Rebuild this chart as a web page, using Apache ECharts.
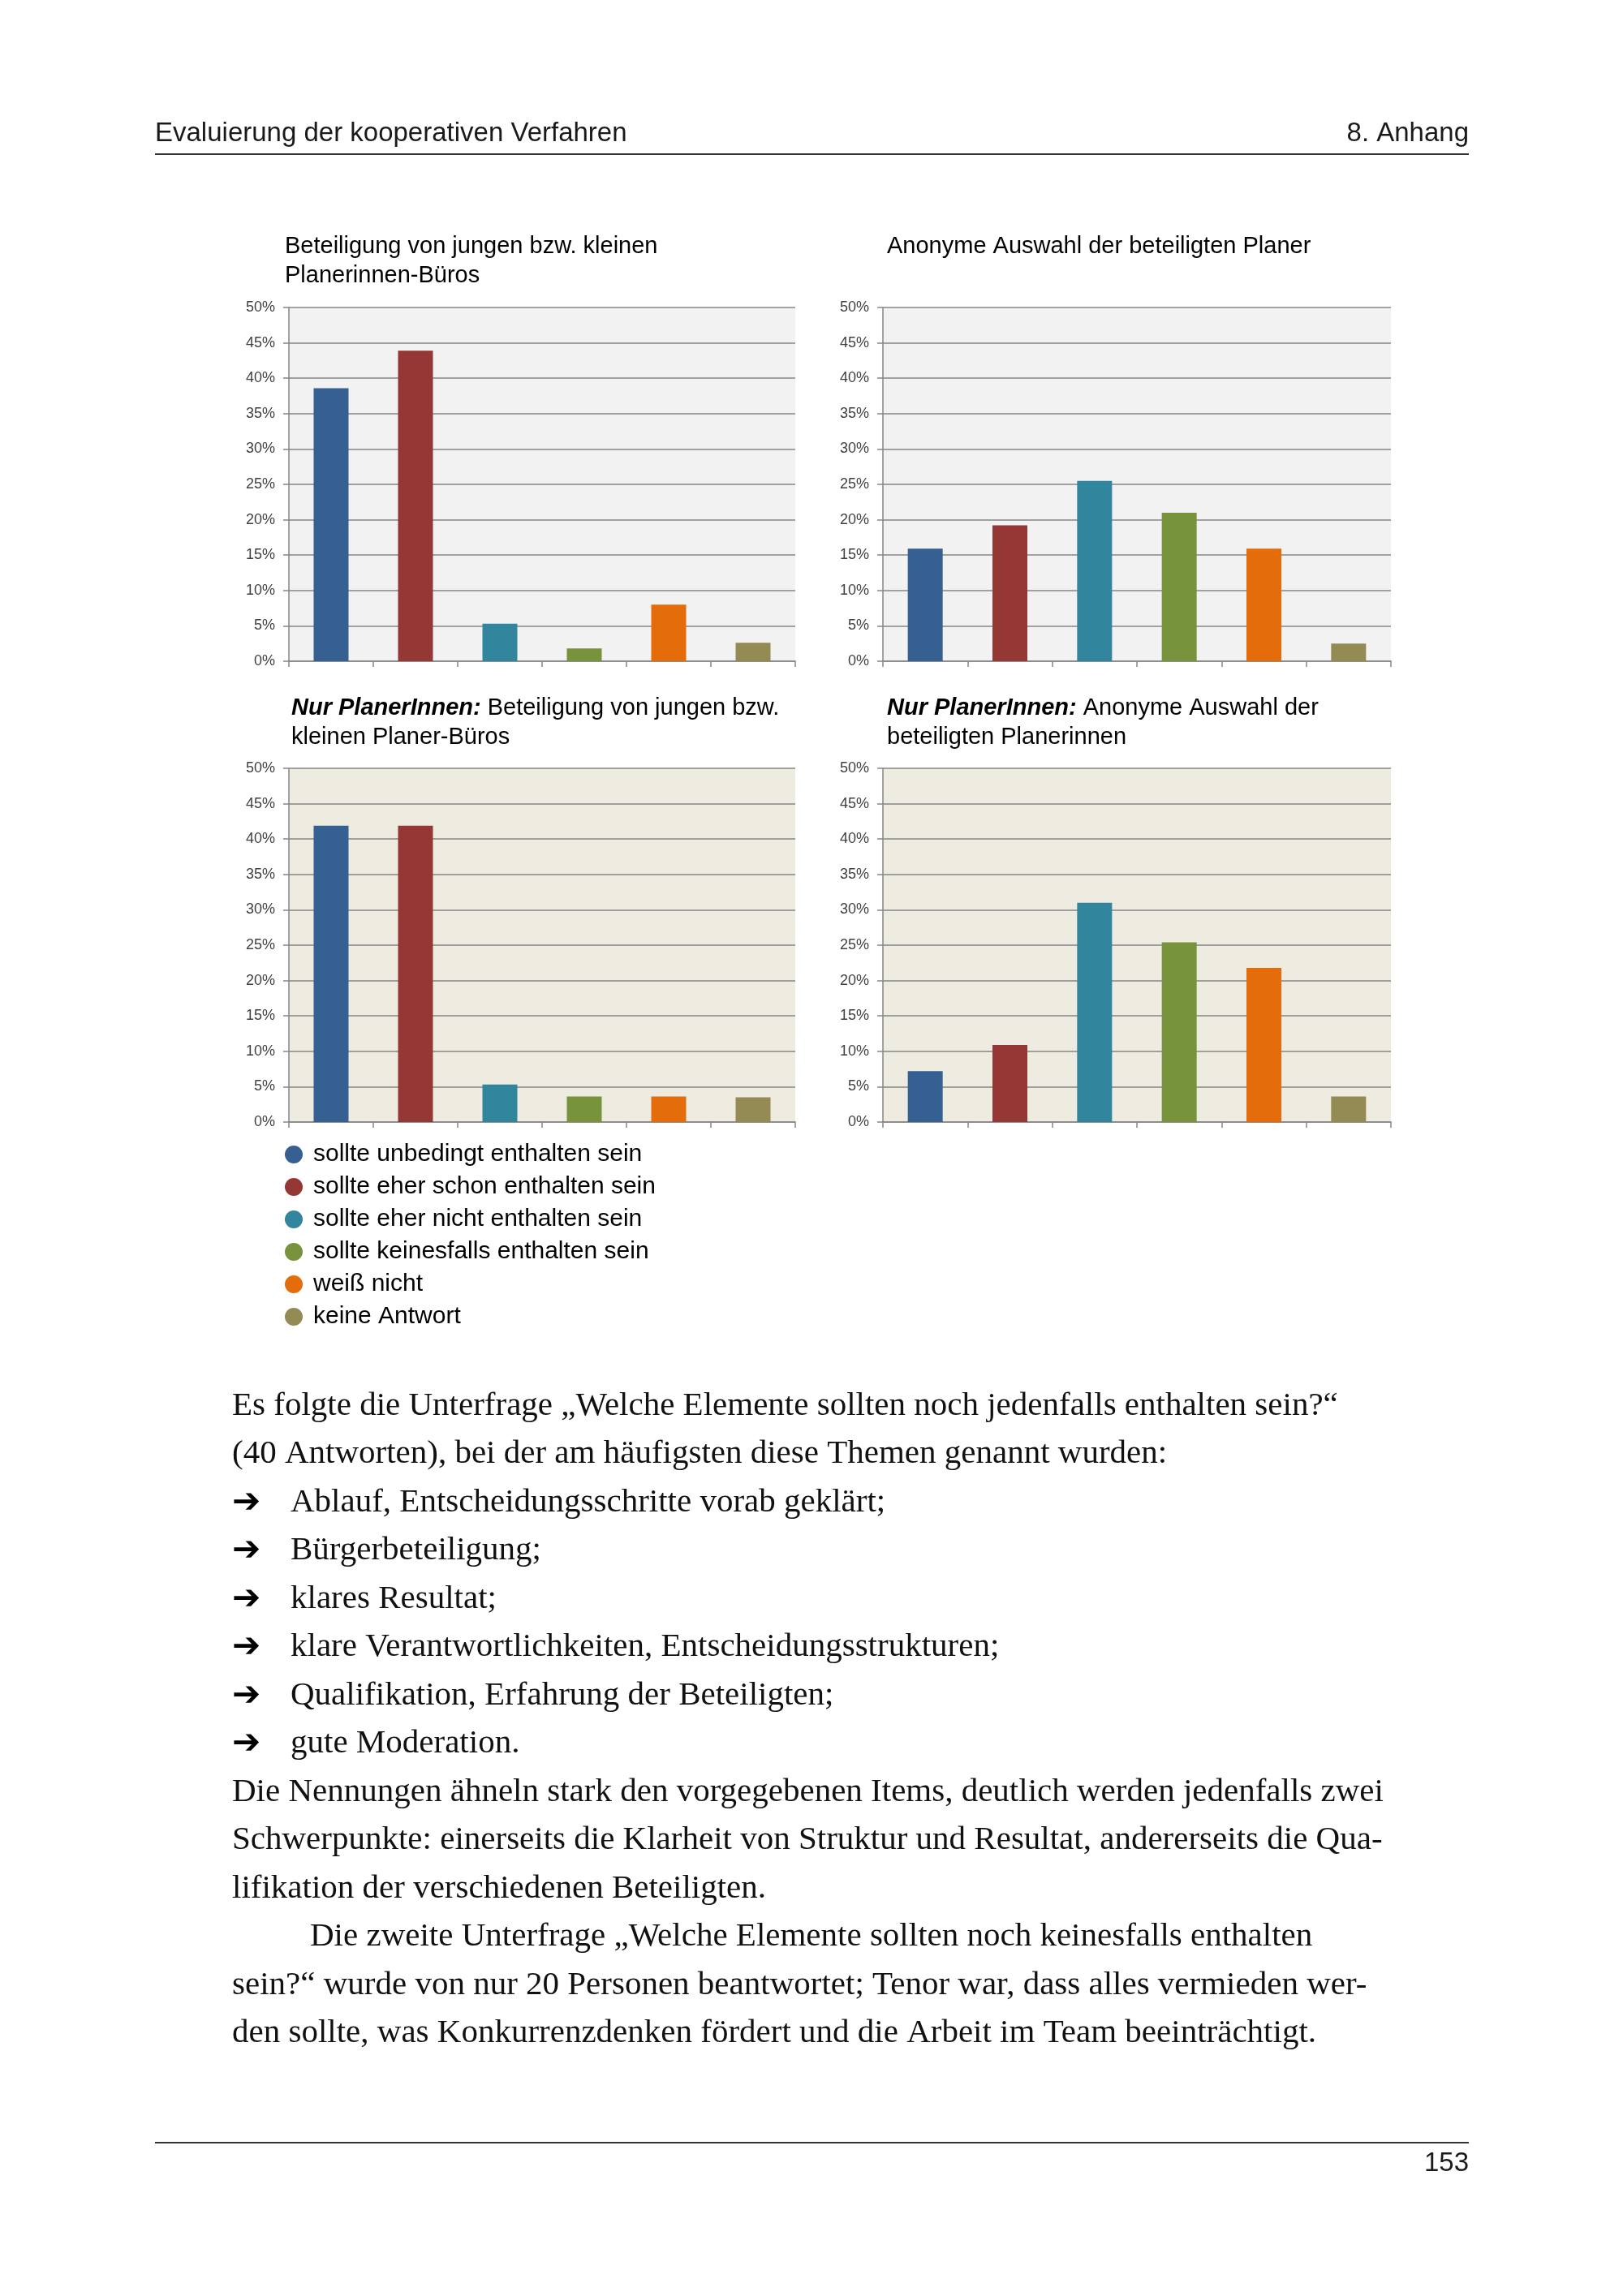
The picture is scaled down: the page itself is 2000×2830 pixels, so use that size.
<!DOCTYPE html>
<html>
<head>
<meta charset="utf-8">
<script src="https://cdn.jsdelivr.net/npm/echarts@6/dist/echarts.min.js"></script>
<style>
html,body{margin:0;padding:0;background:#fff;}
#page{width:2000px;height:2830px;}
</style>
</head>
<body>
<div id="page"></div>
<script>
// ---------- data ----------
const answerCategories = [
  'sollte unbedingt enthalten sein',
  'sollte eher schon enthalten sein',
  'sollte eher nicht enthalten sein',
  'sollte keinesfalls enthalten sein',
  'weiß nicht',
  'keine Antwort'
];
const answerColors = ['#376092', '#953735', '#31859c', '#77933c', '#e46c0a', '#948a54'];

const valuesBeteiligung      = [38.6, 43.9, 5.3, 1.8, 8.0, 2.6];
const valuesAnonym           = [15.9, 19.2, 25.5, 21.0, 15.9, 2.5];
const valuesNurBeteiligung   = [41.9, 41.9, 5.3, 3.6, 3.6, 3.5];
const valuesNurAnonym        = [7.2, 10.9, 31.0, 25.4, 21.8, 3.6];

const chartTitles = [
  'Beteiligung von jungen bzw. kleinen\nPlanerinnen-Büros',
  'Anonyme Auswahl der beteiligten Planer',
  '{b|Nur PlanerInnen:} Beteiligung von jungen bzw.\nkleinen Planer-Büros',
  '{b|Nur PlanerInnen:} Anonyme Auswahl der\nbeteiligten Planerinnen'
];

const yMin = 0, yMax = 50, yStep = 5;

const headerLeft = 'Evaluierung der kooperativen Verfahren';
const headerRight = '8. Anhang';
const pageNumber = '153';

const bodyLines = [
  {kind: 'text', text: 'Es folgte die Unterfrage „Welche Elemente sollten noch jedenfalls enthalten sein?“'},
  {kind: 'text', text: '(40 Antworten), bei der am häufigsten diese Themen genannt wurden:'},
  {kind: 'bullet', text: 'Ablauf, Entscheidungsschritte vorab geklärt;'},
  {kind: 'bullet', text: 'Bürgerbeteiligung;'},
  {kind: 'bullet', text: 'klares Resultat;'},
  {kind: 'bullet', text: 'klare Verantwortlichkeiten, Entscheidungsstrukturen;'},
  {kind: 'bullet', text: 'Qualifikation, Erfahrung der Beteiligten;'},
  {kind: 'bullet', text: 'gute Moderation.'},
  {kind: 'text', text: 'Die Nennungen ähneln stark den vorgegebenen Items, deutlich werden jedenfalls zwei'},
  {kind: 'text', text: 'Schwerpunkte: einerseits die Klarheit von Struktur und Resultat, andererseits die Qua-'},
  {kind: 'text', text: 'lifikation der verschiedenen Beteiligten.'},
  {kind: 'indent', text: 'Die zweite Unterfrage „Welche Elemente sollten noch keinesfalls enthalten'},
  {kind: 'text', text: 'sein?“ wurde von nur 20 Personen beantwortet; Tenor war, dass alles vermieden wer-'},
  {kind: 'text', text: 'den sollte, was Konkurrenzdenken fördert und die Arbeit im Team beeinträchtigt.'}
];

// ---------- layout ----------
const chartValues = [valuesBeteiligung, valuesAnonym, valuesNurBeteiligung, valuesNurAnonym];
const plotBg = ['#f2f2f2', '#f2f2f2', '#eeece1', '#eeece1'];
const grids = [
  {left: 356, top: 379, width: 624, height: 436},
  {left: 1088, top: 379, width: 626, height: 436},
  {left: 356, top: 947, width: 624, height: 436},
  {left: 1088, top: 947, width: 626, height: 436}
];
const titlePos = [
  {left: 351, top: 286},
  {left: 1093, top: 286},
  {left: 359, top: 855},
  {left: 1093, top: 855}
];
const axisGray = '#868686';
const sansFont = '"Liberation Sans", Arial, sans-serif';
const serifFont = '"Liberation Serif", "Times New Roman", serif';

const chart = echarts.init(document.getElementById('page'), null, {renderer: 'canvas', width: 2000, height: 2830});

const series = [];
chartValues.forEach((vals, g) => {
  answerCategories.forEach((name, i) => {
    series.push({
      type: 'bar',
      name: name,
      xAxisIndex: g,
      yAxisIndex: g,
      stack: 'st' + g,
      barWidth: 43,
      itemStyle: {color: answerColors[i]},
      data: vals.map((v, j) => (j === i ? v : '-')),
      silent: true
    });
  });
});

const graphic = [];
// header
graphic.push({type: 'text', left: 191, top: 148, style: {text: headerLeft, font: '33px ' + sansFont, fill: '#1a1a1a'}});
graphic.push({type: 'text', right: 190, top: 148, style: {text: headerRight, font: '33px ' + sansFont, fill: '#1a1a1a'}});
graphic.push({type: 'line', shape: {x1: 191, y1: 190, x2: 1810, y2: 190}, style: {stroke: '#333', lineWidth: 2}});
// footer
graphic.push({type: 'line', shape: {x1: 191, y1: 2641, x2: 1810, y2: 2641}, style: {stroke: '#333', lineWidth: 2}});
graphic.push({type: 'text', right: 190, top: 2650, style: {text: pageNumber, font: '33px ' + sansFont, fill: '#1a1a1a'}});
// body text
const bodyTop = 1733, bodyStep = 59.5;
bodyLines.forEach((ln, k) => {
  const y = bodyTop + k * bodyStep;
  let x = 286;
  if (ln.kind === 'bullet') {
    graphic.push({type: 'text', x: 286, y: y + 1, style: {text: '➔', font: 'bold 42px "DejaVu Sans", sans-serif', fill: '#000', textVerticalAlign: 'middle'}});
    x = 358;
  } else if (ln.kind === 'indent') {
    x = 382;
  }
  graphic.push({type: 'text', x: x, y: y, style: {text: ln.text, font: '41px ' + serifFont, fill: '#111', textVerticalAlign: 'middle'}});
});

const option = {
  animation: false,
  backgroundColor: '#ffffff',
  title: chartTitles.map((t, g) => ({
    text: t,
    left: titlePos[g].left,
    top: titlePos[g].top,
    padding: 0,
    textStyle: {
      fontFamily: sansFont, fontSize: 29, fontWeight: 'normal', color: '#000', lineHeight: 36,
      rich: {b: {fontFamily: sansFont, fontSize: 29, fontWeight: 'bold', fontStyle: 'italic', color: '#000', lineHeight: 36}}
    }
  })),
  legend: {
    data: answerCategories,
    orient: 'vertical',
    left: 351,
    top: 1408,
    icon: 'circle',
    itemWidth: 22,
    itemHeight: 22,
    itemGap: 10,
    padding: 0,
    selectedMode: false,
    textStyle: {fontFamily: sansFont, fontSize: 30, color: '#000', lineHeight: 30, padding: [0, 0, 0, 8]}
  },
  grid: grids.map((gr, g) => Object.assign({}, gr, {show: true, backgroundColor: plotBg[g], borderWidth: 0, containLabel: false})),
  xAxis: grids.map((gr, g) => ({
    type: 'category',
    gridIndex: g,
    data: answerCategories,
    boundaryGap: true,
    axisLine: {show: true, lineStyle: {color: axisGray, width: 1.5}},
    axisTick: {show: true, interval: 0, length: 7, lineStyle: {color: axisGray, width: 1.5}},
    axisLabel: {show: false},
    splitLine: {show: false}
  })),
  yAxis: grids.map((gr, g) => ({
    type: 'value',
    gridIndex: g,
    min: yMin, max: yMax, interval: yStep,
    axisLine: {show: true, lineStyle: {color: axisGray, width: 1.5}},
    axisTick: {show: true, length: 7, lineStyle: {color: axisGray, width: 1.5}},
    axisLabel: {show: true, formatter: '{value}%', margin: 17, fontFamily: sansFont, fontSize: 18, color: '#404040'},
    splitLine: {show: true, lineStyle: {color: axisGray, width: 1.5}}
  })),
  series: series,
  graphic: graphic
};
chart.setOption(option);
</script>
</body>
</html>
